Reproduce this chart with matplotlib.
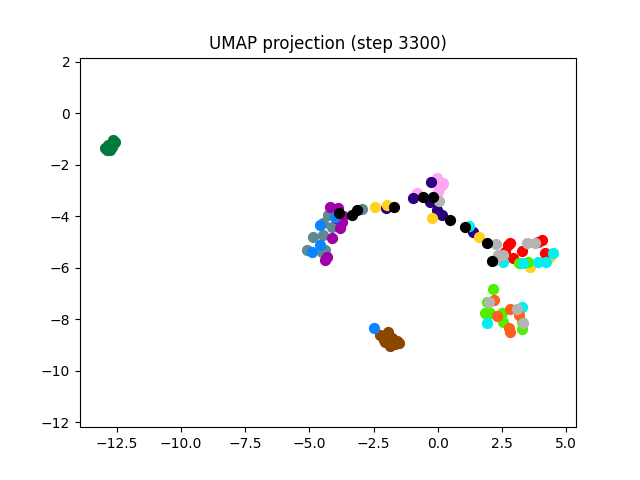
import numpy as np
import matplotlib
matplotlib.use("Agg")
import matplotlib.pyplot as plt

# cluster points, grouped by colour
dark_green_x = [-12.97, -12.77, -12.85, -12.66, -12.62, -12.70, -12.89, -12.58]
dark_green_y = [-1.34, -1.42, -1.23, -1.03, -1.15, -1.30, -1.42, -1.11]

brown_x = [-2.25, -1.94, -1.78, -2.05, -1.67, -1.51, -1.86, -2.02, -2.10, -1.60]
brown_y = [-8.62, -8.50, -8.73, -8.89, -8.97, -8.93, -9.05, -8.70, -8.80, -8.85]

teal_x = [-4.28, -4.47, -4.12, -4.86, -4.47, -5.10, -4.51, -4.39, -2.95]
teal_y = [-3.95, -4.26, -4.42, -4.81, -4.73, -5.31, -5.39, -5.31, -3.72]

magenta_x = [-4.20, -3.89, -3.73, -3.81, -4.12, -4.39, -4.32, -3.70, -3.95]
magenta_y = [-3.64, -3.68, -4.22, -4.46, -4.85, -5.70, -5.58, -4.00, -4.05]

blue_x = [-4.59, -4.00, -4.59, -4.90, -2.48]
blue_y = [-4.34, -4.03, -5.12, -5.39, -8.35]

pink_x = [-0.03, 0.17, 0.01, -0.81, 0.20, 0.05]
pink_y = [-2.51, -2.78, -3.06, -3.10, -2.70, -2.90]

indigo_x = [-2.02, -0.26, -0.97, -0.30, -0.03, 0.17, 1.37]
indigo_y = [-3.68, -2.67, -3.29, -3.45, -3.76, -3.95, -4.61]

gold_x = [-2.45, -1.98, -0.22, 1.61, 3.60, 4.37]
gold_y = [-3.64, -3.56, -4.07, -4.81, -5.97, -5.58]

black_x = [-3.85, -3.34, -3.15, -1.70, -0.57, -0.18, 0.48, 1.06, 1.92, 2.11]
black_y = [-3.87, -3.95, -3.76, -3.64, -3.25, -3.25, -4.15, -4.42, -5.04, -5.74]

red_x = [2.74, 2.62, 3.28, 2.93, 3.91, 4.06, 4.18, 2.82]
red_y = [-5.12, -5.39, -5.35, -5.62, -5.00, -4.92, -5.43, -5.04]

grey_x = [0.05, 2.27, 2.35, 2.54, 2.23, 3.48, 3.79, 1.99, 3.09, 3.32]
grey_y = [-3.41, -5.08, -5.51, -5.51, -5.70, -5.04, -5.04, -7.33, -7.61, -8.15]

cyan_x = [1.22, 2.54, 3.32, 3.91, 4.22, 4.49, 1.92, 3.28]
cyan_y = [-4.38, -5.78, -5.82, -5.78, -5.78, -5.43, -8.15, -7.53]

green_x = [3.17, 3.52, 2.15, 1.92, 1.84, 2.04, 2.50, 2.54, 3.28, 3.28]
green_y = [-5.82, -5.78, -6.83, -7.33, -7.76, -7.76, -7.76, -8.11, -8.38, -8.11]

orange_x = [2.19, 2.31, 2.82, 2.78, 2.82, 3.17]
orange_y = [-7.26, -7.88, -7.61, -8.34, -8.50, -7.84]

groups = [
    (dark_green_x, dark_green_y, "#007a3d"),
    (brown_x, brown_y, "#8c4600"),
    (teal_x, teal_y, "#5f8a8f"),
    (magenta_x, magenta_y, "#a000a8"),
    (blue_x, blue_y, "#0a84ff"),
    (pink_x, pink_y, "#ffa6f5"),
    (indigo_x, indigo_y, "#2a007f"),
    (gold_x, gold_y, "#ffd21f"),
    (red_x, red_y, "#ff0000"),
    (green_x, green_y, "#4ef000"),
    (cyan_x, cyan_y, "#00f0f0"),
    (orange_x, orange_y, "#ff5f1f"),
    (grey_x, grey_y, "#b4b4b4"),
    (black_x, black_y, "#000000"),
]

fig, ax = plt.subplots(figsize=(6.4, 4.8), dpi=100)
for xs, ys, c in groups:
    ax.scatter(xs, ys, c=c, s=50)

ax.set_xlim(-13.94, 5.39)
ax.set_ylim(-12.19, 2.16)
ax.set_title("UMAP projection (step 3300)")
fig.savefig("out.png")
